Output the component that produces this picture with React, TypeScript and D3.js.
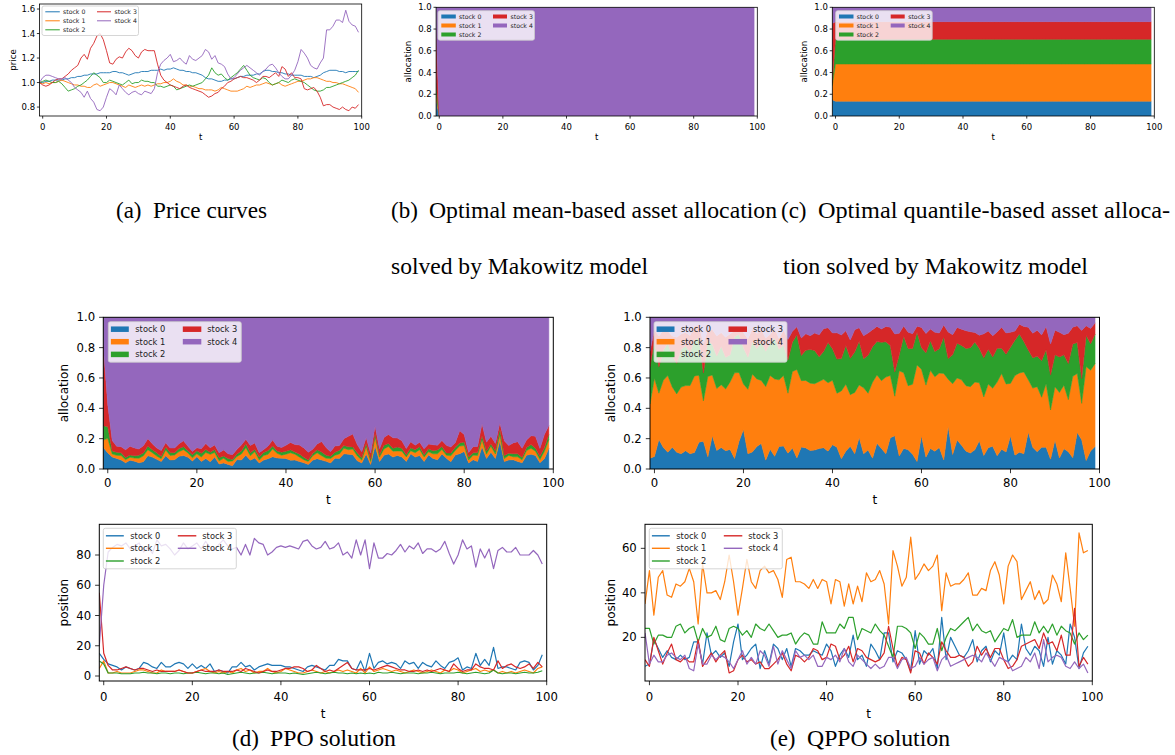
import React from "react";
import * as d3 from "d3";

// time steps shared by every panel (t = -1 .. 99)
const tSteps = d3.range(-1, 100);
const stockNames = ["stock 0", "stock 1", "stock 2", "stock 3", "stock 4"];
const stockColors = ["#1f77b4", "#ff7f0e", "#2ca02c", "#d62728", "#9467bd"];
const tTicks = [0, 20, 40, 60, 80, 100];

// (a) price curves
const price0 = [1.00, 1.00, 1.01, 1.01, 1.02, 1.02, 1.02, 1.02, 1.03, 1.03, 1.04,
  1.04, 1.05, 1.05, 1.06, 1.06, 1.07, 1.07, 1.07, 1.08, 1.08,
  1.08, 1.08, 1.09, 1.09, 1.08, 1.08, 1.07, 1.06, 1.07, 1.08,
  1.08, 1.09, 1.09, 1.09, 1.10, 1.10, 1.10, 1.11, 1.10, 1.11,
  1.11, 1.12, 1.11, 1.10, 1.10, 1.09, 1.09, 1.08, 1.08, 1.07,
  1.06, 1.04, 1.03, 1.03, 1.02, 1.01, 1.01, 1.02, 1.02, 1.03,
  1.03, 1.04, 1.05, 1.05, 1.06, 1.06, 1.06, 1.07, 1.07, 1.09,
  1.10, 1.10, 1.09, 1.09, 1.08, 1.08, 1.07, 1.07, 1.06, 1.06,
  1.06, 1.06, 1.05, 1.05, 1.05, 1.04, 1.05, 1.06, 1.08, 1.09,
  1.10, 1.10, 1.10, 1.09, 1.09, 1.08, 1.09, 1.09, 1.09, 1.09];
const price1 = [1.00, 0.99, 1.00, 0.99, 1.00, 1.00, 1.01, 1.02, 1.01, 1.00, 0.99,
  0.98, 0.98, 0.97, 0.97, 0.96, 0.96, 0.98, 0.99, 0.97, 0.98,
  0.99, 1.00, 1.00, 0.99, 0.98, 0.97, 0.96, 0.98, 0.97, 0.96,
  0.97, 0.98, 0.97, 0.98, 0.97, 0.98, 0.99, 0.99, 1.00, 1.00,
  1.01, 1.03, 1.01, 1.00, 0.98, 0.98, 0.97, 0.97, 0.96, 0.95,
  0.95, 0.94, 0.94, 0.94, 0.93, 0.94, 0.96, 0.95, 0.94, 0.93,
  0.93, 0.93, 0.94, 0.95, 0.97, 0.96, 0.97, 0.98, 0.98, 0.99,
  1.00, 0.99, 0.98, 0.99, 1.00, 0.98, 0.97, 0.98, 0.99, 1.00,
  1.01, 1.01, 1.02, 1.03, 1.03, 1.04, 1.04, 1.03, 1.02, 1.01,
  1.01, 1.00, 1.00, 0.99, 0.99, 0.98, 0.97, 0.96, 0.95, 0.92];
const price2 = [1.00, 1.01, 1.02, 1.01, 1.00, 1.00, 1.01, 0.99, 0.96, 0.93, 0.94,
  0.95, 0.97, 0.98, 1.00, 1.02, 1.05, 1.08, 1.06, 1.04, 1.00,
  1.00, 1.02, 1.01, 1.00, 0.99, 0.98, 1.00, 1.02, 0.99, 1.00,
  1.00, 1.02, 1.01, 1.01, 1.00, 1.00, 0.97, 0.97, 0.96, 0.97,
  0.98, 0.97, 0.94, 0.95, 0.96, 0.97, 0.98, 0.97, 0.98, 0.99,
  1.00, 1.03, 1.06, 1.12, 1.08, 1.06, 1.07, 1.04, 1.02, 1.04,
  1.06, 1.08, 1.11, 1.14, 1.10, 1.06, 1.04, 1.03, 1.02, 1.04,
  1.03, 1.00, 0.98, 0.99, 1.00, 1.02, 1.01, 1.00, 1.02, 1.03,
  1.02, 1.01, 1.00, 0.98, 0.96, 0.94, 0.93, 0.93, 0.94, 0.96,
  0.96, 0.97, 0.98, 0.99, 1.00, 1.01, 1.02, 1.04, 1.06, 1.10];
const price3 = [1.00, 0.98, 0.97, 0.98, 1.00, 1.02, 1.03, 1.03, 1.05, 1.07, 1.10,
  1.12, 1.14, 1.20, 1.23, 1.19, 1.28, 1.32, 1.38, 1.40, 1.35,
  1.26, 1.16, 1.15, 1.19, 1.21, 1.20, 1.25, 1.28, 1.26, 1.22,
  1.20, 1.25, 1.27, 1.26, 1.26, 1.26, 1.15, 1.06, 1.02, 1.00,
  0.98, 0.97, 0.96, 0.95, 0.97, 0.98, 0.96, 0.95, 0.94, 0.93,
  0.92, 0.90, 0.88, 0.89, 0.91, 0.92, 0.95, 0.97, 1.00, 1.01,
  1.03, 1.04, 1.05, 1.04, 1.04, 1.03, 1.02, 1.00, 1.02, 1.05,
  1.05, 1.04, 1.06, 1.08, 1.05, 1.13, 1.11, 1.05, 1.08, 1.04,
  1.04, 1.03, 0.95, 0.94, 0.95, 0.96, 0.93, 0.88, 0.81, 0.82,
  0.82, 0.80, 0.79, 0.78, 0.80, 0.78, 0.77, 0.80, 0.79, 0.82];
const price4 = [1.00, 1.04, 1.06, 1.06, 1.05, 1.04, 1.03, 1.03, 1.04, 1.02, 1.00,
  0.96, 0.94, 0.92, 0.88, 0.93, 0.87, 0.84, 0.78, 0.77, 0.80,
  0.88, 0.95, 0.93, 0.90, 0.98, 0.95, 0.92, 0.90, 0.92, 0.93,
  0.91, 0.90, 0.93, 0.92, 0.91, 0.95, 1.08, 1.15, 1.18, 1.20,
  1.23, 1.17, 1.18, 1.20, 1.17, 1.15, 1.22, 1.19, 1.18, 1.20,
  1.22, 1.27, 1.25, 1.19, 1.22, 1.16, 1.15, 1.13, 1.07, 1.03,
  1.04, 1.07, 1.10, 1.12, 1.14, 1.12, 1.10, 1.08, 1.06, 1.09,
  1.11, 1.14, 1.15, 1.12, 1.08, 1.05, 1.03, 1.03, 1.06, 1.10,
  1.17, 1.27, 1.24, 1.20, 1.14, 1.12, 1.11, 1.16, 1.20, 1.43,
  1.43, 1.46, 1.51, 1.51, 1.49, 1.59, 1.50, 1.47, 1.46, 1.41];

// (b) and (c) Makowitz allocations: first step, then constant
const meanAllocStart = [0.15, 0.05, 0.1, 0.5, 0.2];
const meanAlloc = [0, 0, 0, 0, 1];
const quantileAllocStart = [0.15, 0.13, 0.02, 0.55, 0.15];
const quantileAlloc = [0.135, 0.343, 0.227, 0.163, 0.132];

// (d) PPO positions
const ppo0 = [15, 11, 8, 7, 6, 4, 6, 5, 4, 5, 9,
  8, 6, 5, 9, 6, 6, 8, 9, 8, 5,
  8, 5, 7, 5, 8, 3, 4, 3, 2, 6,
  6, 9, 6, 7, 4, 6, 7, 8, 7, 7,
  7, 6, 6, 5, 4, 3, 6, 7, 6, 5,
  4, 7, 7, 11, 10, 10, 5, 4, 10, 3,
  15, 5, 9, 10, 8, 9, 8, 5, 10, 8,
  9, 5, 9, 7, 6, 10, 7, 5, 9, 10,
  12, 4, 6, 5, 15, 7, 11, 7, 19, 5,
  6, 6, 5, 4, 9, 10, 9, 4, 7, 14];
const ppo1 = [5, 10, 2, 2, 3, 2, 2, 2, 3, 4, 4,
  3, 2, 2, 4, 3, 3, 3, 4, 3, 2,
  2, 3, 4, 5, 3, 2, 3, 2, 3, 2,
  4, 5, 3, 4, 2, 3, 3, 5, 3, 2,
  3, 5, 4, 3, 2, 2, 3, 4, 3, 2,
  3, 2, 3, 4, 3, 4, 3, 2, 5, 2,
  6, 3, 4, 5, 4, 3, 4, 3, 2, 3,
  4, 3, 2, 3, 4, 3, 2, 4, 3, 5,
  4, 2, 3, 4, 5, 3, 4, 3, 4, 2,
  3, 2, 3, 2, 3, 4, 3, 2, 5, 6];
const ppo2 = [10, 8, 2, 2, 2, 1.5, 1.5, 1.5, 2, 2, 2.5,
  2, 2, 1.5, 2, 2, 1.5, 2, 2, 1.5, 2,
  2, 2.5, 2, 1.5, 2, 2, 1.5, 2, 1, 1.5,
  2, 2.5, 2, 1.5, 2, 2, 2.5, 2, 1.5, 2,
  2, 2, 1.5, 2, 1.5, 1, 1.5, 2, 2.5, 2,
  1.5, 2, 2.5, 2, 2, 1.5, 2, 1.5, 2, 1.5,
  2, 1.5, 2.5, 2, 2, 2.5, 2, 1.5, 2, 2,
  2, 1.5, 2, 2, 2.5, 2, 1.5, 2, 2, 2,
  2.5, 2, 1.5, 2, 2.5, 2, 1.5, 2, 4, 2,
  1.5, 2, 2, 1.5, 2, 2.5, 2, 2, 2.5, 3.5];
const ppo3 = [55, 15, 7, 4, 4, 5, 6, 5, 4, 5, 5,
  4, 3, 4, 3, 3, 3, 3, 4, 3, 2,
  2, 3, 4, 3, 3, 3, 4, 3, 3, 3,
  4, 3, 5, 4, 3, 2, 3, 4, 3, 3,
  4, 5, 5, 6, 6, 5, 3, 4, 7, 5,
  3, 4, 3, 5, 7, 9, 5, 4, 4, 4,
  5, 4, 5, 6, 7, 6, 5, 4, 4, 3,
  3, 4, 3, 4, 3, 4, 5, 4, 3, 8,
  5, 3, 4, 4, 8, 6, 5, 5, 4, 10,
  5, 7, 8, 6, 5, 6, 8, 5, 9, 6];
const ppo4 = [20, 60, 82, 85, 87, 86, 88, 84, 86, 88, 82,
  85, 81, 90, 86, 87, 84, 80, 83, 88, 84,
  86, 88, 84, 89, 85, 83, 87, 90, 86, 84,
  85, 80, 87, 80, 91, 88, 87, 80, 82, 85,
  86, 85, 86, 85, 84, 89, 90, 86, 84, 85,
  89, 84, 85, 88, 80, 82, 78, 90, 80, 90,
  71, 88, 78, 78, 81, 80, 83, 87, 82, 86,
  84, 88, 81, 84, 84, 82, 84, 89, 81, 74,
  80, 90, 84, 86, 72, 84, 78, 84, 71, 83,
  85, 82, 82, 85, 80, 80, 80, 83, 80, 74];

// (e) QPPO positions
const qppo0 = [7, 8, 19, 15, 11, 14, 11, 10, 12, 10, 11,
  18, 18, 8, 22, 12, 14, 11, 13, 7, 18,
  26, 10, 12, 15, 17, 6, 14, 8, 17, 15,
  10, 15, 7, 15, 14, 12, 12, 14, 13, 12,
  17, 14, 7, 12, 15, 11, 21, 10, 12, 7,
  17, 14, 10, 22, 22, 9, 14, 13, 10, 5,
  23, 8, 14, 12, 15, 6, 29, 10, 20, 16,
  12, 11, 14, 19, 9, 14, 16, 9, 14, 12,
  22, 9, 12, 10, 26, 15, 12, 16, 14, 7,
  20, 8, 14, 12, 8, 26, 20, 6, 13, 16];
const qppo1 = [35, 50, 30, 47, 50, 39, 38, 44, 43, 45, 51,
  45, 26, 53, 40, 40, 41, 37, 45, 57, 45,
  30, 42, 55, 45, 42, 50, 52, 49, 50, 46,
  38, 55, 56, 45, 45, 44, 42, 46, 42, 46,
  45, 35, 46, 45, 34, 44, 35, 43, 36, 49,
  45, 46, 50, 44, 26, 59, 52, 43, 47, 65,
  46, 49, 53, 50, 52, 57, 32, 49, 43, 44,
  44, 46, 49, 39, 39, 42, 41, 50, 54, 48,
  35, 52, 57, 54, 37, 41, 45, 37, 41, 35,
  37, 48, 44, 36, 58, 42, 25, 67, 58, 59];
const qppo2 = [24, 24, 17, 21, 21, 20, 20, 25, 26, 22, 24,
  25, 18, 24, 20, 21, 25, 19, 18, 24, 25,
  24, 21, 23, 20, 26, 24, 23, 26, 23, 20,
  21, 21, 22, 17, 20, 22, 21, 17, 17, 27,
  22, 22, 22, 26, 24, 29, 29, 19, 24, 23,
  22, 26, 23, 21, 16, 11, 25, 25, 24, 22,
  15, 22, 20, 17, 17, 24, 14, 20, 24, 23,
  25, 27, 29, 23, 26, 23, 22, 23, 18, 21,
  24, 23, 28, 20, 21, 21, 21, 27, 22, 25,
  22, 26, 21, 25, 23, 22, 17, 22, 19, 21];
const qppo3 = [10, 7, 20, 14, 8, 13, 17, 10, 9, 11, 9,
  9, 19, 7, 10, 13, 9, 12, 14, 4, 5,
  10, 12, 9, 10, 8, 9, 6, 6, 8, 10,
  13, 8, 5, 12, 11, 9, 11, 15, 14, 10,
  11, 17, 16, 10, 12, 16, 9, 15, 14, 11,
  10, 9, 10, 13, 25, 15, 7, 11, 10, 4,
  14, 13, 8, 13, 11, 8, 18, 14, 11, 11,
  12, 11, 7, 9, 16, 12, 15, 11, 15, 15,
  10, 6, 7, 10, 16, 17, 18, 19, 15, 22,
  17, 18, 14, 21, 12, 12, 33, 7, 11, 8];
const qppo4 = [22, 8, 12, 9, 9, 12, 13, 11, 10, 12, 6,
  5, 17, 8, 8, 12, 10, 12, 11, 9, 6,
  10, 14, 8, 11, 8, 14, 12, 7, 16, 8,
  14, 10, 6, 14, 11, 12, 10, 12, 7, 7,
  11, 10, 12, 9, 15, 9, 7, 12, 10, 8,
  6, 8, 6, 7, 11, 11, 6, 10, 11, 6,
  7, 11, 8, 10, 11, 5, 10, 12, 7, 8,
  9, 10, 11, 12, 11, 9, 13, 10, 7, 11,
  10, 9, 5, 6, 7, 11, 9, 13, 6, 19,
  9, 11, 12, 11, 7, 6, 9, 6, 8, 4];

const prices = [price0, price1, price2, price3, price4];
const ppoPos = [ppo0, ppo1, ppo2, ppo3, ppo4];
const qppoPos = [qppo0, qppo1, qppo2, qppo3, qppo4];

const KEYS = ["s0", "s1", "s2", "s3", "s4"];
const FONT = "DejaVu Sans, sans-serif";

// allocation table from positions (share of the total at each step)
function allocRows(pos: number[][]) {
  return tSteps.map((t, i) => {
    const total = d3.sum(pos, (p) => p[i]);
    const row: any = { t };
    KEYS.forEach((k, j) => (row[k] = pos[j][i] / total));
    return row;
  });
}

function constRows(start: number[], rest: number[]) {
  return tSteps.map((t, i) => {
    const src = i === 0 ? start : rest;
    const row: any = { t };
    KEYS.forEach((k, j) => (row[k] = src[j]));
    return row;
  });
}

type Box = { x0: number; x1: number; y0: number; y1: number };
type Style = {
  tickFont: number; labelFont: number; tickLen: number;
  xTickBase: number; xLabelBase: number; yLabelX: number; gap: number;
};

const small: Style = { tickFont: 8.5, labelFont: 8.6, tickLen: 2.6, xTickBase: 129.8, xLabelBase: 140, yLabelX: 0, gap: 1.8 };

const legendLarge = { w: 133, h: 40.5, rows: [7.5, 20, 32.7], hx: [[2.6, 20.5], [74.5, 93]], tx: [27, 99], font: 8.3, patchH: 5.5 };
const legendSmall = { w: 96.5, h: 29.5, rows: [5.8, 14.8, 23.8], hx: [[3.3, 17.8], [55, 69]], tx: [21, 72.5], font: 6.2, patchH: 4 };

function Legend({ x, y, cfg, patch }: { x: number; y: number; cfg: any; patch: boolean }) {
  return (
    <g transform={`translate(${x},${y})`} fontFamily={FONT}>
      <rect width={cfg.w} height={cfg.h} rx={2} fill="white" fillOpacity={0.8} stroke="#cccccc" strokeWidth={0.8} />
      {stockNames.map((name, i) => {
        const col = i < 3 ? 0 : 1;
        const ry = cfg.rows[i < 3 ? i : i - 3];
        const [h0, h1] = cfg.hx[col];
        return (
          <g key={name}>
            {patch ? (
              <rect x={h0} y={ry - cfg.patchH / 2} width={h1 - h0} height={cfg.patchH} fill={stockColors[i]} />
            ) : (
              <line x1={h0} x2={h1} y1={ry} y2={ry} stroke={stockColors[i]} strokeWidth={cfg.font > 7 ? 1.4 : 1} />
            )}
            <text x={cfg.tx[col]} y={ry} dominantBaseline="central" fontSize={cfg.font} fill="#222">
              {name}
            </text>
          </g>
        );
      })}
    </g>
  );
}

function Frame({ box, x, y, yTicks, yFmt, st, yLabel, id, children }: any) {
  const g = st.tickLen + st.gap;
  return (
    <g fontFamily={FONT}>
      <defs>
        <clipPath id={id}>
          <rect x={box.x0} y={box.y0} width={box.x1 - box.x0} height={box.y1 - box.y0} />
        </clipPath>
      </defs>
      <g clipPath={`url(#${id})`}>{children}</g>
      <rect x={box.x0} y={box.y0} width={box.x1 - box.x0} height={box.y1 - box.y0} fill="none" stroke="#000" strokeWidth={st.tickFont > 10 ? 1 : 0.8} />
      {tTicks.map((t) => (
        <g key={"x" + t}>
          <line x1={x(t)} x2={x(t)} y1={box.y1} y2={box.y1 + st.tickLen} stroke="#000" strokeWidth={0.8} />
          <text x={x(t)} y={st.xTickBase} textAnchor="middle" fontSize={st.tickFont}>{t}</text>
        </g>
      ))}
      {yTicks.map((v: number) => (
        <g key={"y" + v}>
          <line x1={box.x0 - st.tickLen} x2={box.x0} y1={y(v)} y2={y(v)} stroke="#000" strokeWidth={0.8} />
          <text x={box.x0 - g} y={y(v)} textAnchor="end" dominantBaseline="central" fontSize={st.tickFont}>{yFmt(v)}</text>
        </g>
      ))}
      <text x={(box.x0 + box.x1) / 2} y={st.xLabelBase} textAnchor="middle" fontSize={st.labelFont}>t</text>
      <text transform={`translate(${st.yLabelX},${(box.y0 + box.y1) / 2}) rotate(-90)`} textAnchor="middle" dominantBaseline="central" fontSize={st.labelFont}>{yLabel}</text>
    </g>
  );
}

function LinePanel({ box, yDomain, yTicks, yFmt, series, st, yLabel, id, legend, lw }: any) {
  const x = d3.scaleLinear().domain([-1, 100]).range([box.x0, box.x1]);
  const y = d3.scaleLinear().domain(yDomain).range([box.y1, box.y0]);
  const line = d3.line<number>().x((_, i) => x(tSteps[i])).y((v) => y(v));
  return (
    <g>
      <Frame box={box} x={x} y={y} yTicks={yTicks} yFmt={yFmt} st={st} yLabel={yLabel} id={id}>
        {series.map((s: number[], i: number) => (
          <path key={i} d={line(s) || ""} fill="none" stroke={stockColors[i]} strokeWidth={lw} strokeLinejoin="round" />
        ))}
      </Frame>
      <Legend x={legend[0]} y={legend[1]} cfg={legend[2]} patch={false} />
    </g>
  );
}

function StackPanel({ box, rows, st, id, legend }: any) {
  const x = d3.scaleLinear().domain([-1, 100]).range([box.x0, box.x1]);
  const y = d3.scaleLinear().domain([0, 1]).range([box.y1, box.y0]);
  const layers = d3.stack().keys(KEYS)(rows);
  const area = d3.area<any>().x((d) => x(d.data.t)).y0((d) => y(d[0])).y1((d) => y(d[1]));
  return (
    <g>
      <Frame box={box} x={x} y={y} yTicks={[0, 0.2, 0.4, 0.6, 0.8, 1.0]} yFmt={d3.format(".1f")} st={st} yLabel="allocation" id={id}>
        {layers.map((layer, i) => (
          <path key={i} d={area(layer as any) || ""} fill={stockColors[i]} stroke={stockColors[i]} strokeWidth={0.5} />
        ))}
      </Frame>
      <Legend x={legend[0]} y={legend[1]} cfg={legend[2]} patch={true} />
    </g>
  );
}

function Caption({ label, lx, text, tx, tEnd, y }: any) {
  return (
    <g fontFamily="Liberation Serif, Times New Roman, serif" fontSize={23} fill="#000">
      {label && <text x={lx} y={y}>{label}</text>}
      <text x={tx} y={y} textLength={tEnd - tx} lengthAdjust="spacingAndGlyphs">{text}</text>
    </g>
  );
}

export default function App() {
  const styleA = { ...small, yLabelX: 12.7 };
  const styleB = { ...small, yLabelX: 408.3 };
  const styleC = { ...small, yLabelX: 804.3 };
  const bigTop = { tickFont: 11.7, labelFont: 12, tickLen: 4.2, gap: 4, xTickBase: 486.7, xLabelBase: 504.3 };
  const bigBot = { tickFont: 11.7, labelFont: 12, tickLen: 4.2, gap: 4, xTickBase: 701, xLabelBase: 717.6 };
  const f1 = d3.format(".1f");
  const f0 = d3.format("d");

  return (
    <svg width={1175} height={755} style={{ position: "absolute", left: 0, top: 0, background: "white" }}>
      <LinePanel id="ca" box={{ x0: 39.5, x1: 361.7, y0: 4, y1: 116 }} yDomain={[0.727, 1.641]}
        yTicks={[0.8, 1.0, 1.2, 1.4, 1.6]} yFmt={f1} series={prices} st={styleA} yLabel="price"
        legend={[42, 6, legendSmall]} lw={0.9} />
      <StackPanel id="cb" box={{ x0: 436.1, x1: 757.3, y0: 7.3, y1: 116 }} rows={constRows(meanAllocStart, meanAlloc)}
        st={styleB} legend={[438, 10.7, legendSmall]} />
      <StackPanel id="cc" box={{ x0: 832.3, x1: 1154.3, y0: 7.3, y1: 116 }} rows={constRows(quantileAllocStart, quantileAlloc)}
        st={styleC} legend={[835.7, 10.7, legendSmall]} />

      <StackPanel id="cd" box={{ x0: 103.3, x1: 553.3, y0: 317.3, y1: 469 }} rows={allocRows(ppoPos)}
        st={{ ...bigTop, yLabelX: 64 }} legend={[108.3, 321.7, legendLarge]} />
      <StackPanel id="ce" box={{ x0: 650, x1: 1099.5, y0: 317.3, y1: 469 }} rows={allocRows(qppoPos)}
        st={{ ...bigTop, yLabelX: 610.7 }} legend={[654, 321.7, legendLarge]} />

      <LinePanel id="cf" box={{ x0: 99.3, x1: 546.7, y0: 524.3, y1: 681 }} yDomain={[-3.3, 100.3]}
        yTicks={[0, 20, 40, 60, 80]} yFmt={f0} series={ppoPos} st={{ ...bigBot, yLabelX: 64 }} yLabel="position"
        legend={[103.3, 528.3, legendLarge]} lw={1.2} />
      <LinePanel id="cg" box={{ x0: 645, x1: 1092.3, y0: 524.3, y1: 681 }} yDomain={[0.4, 70.8]}
        yTicks={[20, 40, 60]} yFmt={f0} series={qppoPos} st={{ ...bigBot, yLabelX: 610.7 }} yLabel="position"
        legend={[649.3, 528.3, legendLarge]} lw={1.2} />

      <Caption label="(a)" lx={116} text="Price curves" tx={153} tEnd={267} y={218} />
      <Caption label="(b)" lx={391} text="Optimal mean-based asset allocation" tx={429} tEnd={777} y={218} />
      <Caption text="solved by Makowitz model" tx={391} tEnd={648} y={274} />
      <Caption label="(c)" lx={781} text="Optimal quantile-based asset alloca-" tx={818} tEnd={1170} y={218} />
      <Caption text="tion solved by Makowitz model" tx={783} tEnd={1088} y={274} />
      <Caption label="(d)" lx={232} text="PPO solution" tx={270} tEnd={396} y={746} />
      <Caption label="(e)" lx={770} text="QPPO solution" tx={807} tEnd={950} y={746} />
    </svg>
  );
}
